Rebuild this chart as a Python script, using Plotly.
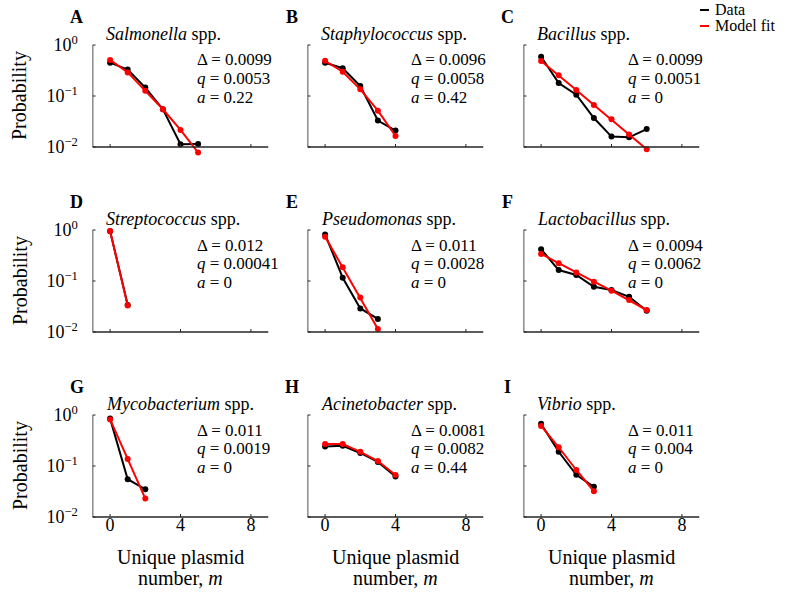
import plotly.graph_objects as go

W, H = 787, 602

species = ["Salmonella", "Staphylococcus", "Bacillus",
           "Streptococcus", "Pseudomonas", "Lactobacillus",
           "Mycobacterium", "Acinetobacter", "Vibrio"]
letters = ["A", "B", "C", "D", "E", "F", "G", "H", "I"]

# Observed probabilities (Data) per species, index = unique plasmid number m
data_obs = [
    [0.45, 0.33, 0.146, 0.055, 0.0113, 0.0114],
    [0.45, 0.35, 0.157, 0.033, 0.021],
    [0.59, 0.18, 0.106, 0.037, 0.016, 0.0155, 0.0225],
    [0.95, 0.034],
    [0.82, 0.116, 0.029, 0.018],
    [0.42, 0.164, 0.131, 0.077, 0.0667, 0.049, 0.026],
    [0.85, 0.055, 0.035],
    [0.24, 0.25, 0.18, 0.12, 0.062],
    [0.67, 0.19, 0.067, 0.039],
]
# Model fit probabilities
data_fit = [
    [0.51, 0.29, 0.127, 0.055, 0.0216, 0.0078],
    [0.49, 0.30, 0.135, 0.0515, 0.0164],
    [0.485, 0.254, 0.131, 0.0667, 0.0349, 0.0175, 0.009],
    [0.955, 0.033],
    [0.74, 0.185, 0.0475, 0.0115],
    [0.34, 0.222, 0.146, 0.097, 0.0645, 0.0425, 0.027],
    [0.82, 0.137, 0.023],
    [0.27, 0.27, 0.19, 0.125, 0.0667],
    [0.61, 0.233, 0.0835, 0.032],
]
delta_vals = ["0.0099", "0.0096", "0.0099", "0.012", "0.011", "0.0094", "0.011", "0.0081", "0.011"]
q_vals = ["0.0053", "0.0058", "0.0051", "0.00041", "0.0028", "0.0062", "0.0019", "0.0082", "0.004"]
a_vals = ["0.22", "0.42", "0", "0", "0", "0", "0", "0.44", "0"]

x_ticks = [0, 4, 8]
y_ticks = [0.01, 0.1, 1]
y_tick_text = ["10<sup>−2</sup>", "10<sup>−1</sup>", "10<sup>0</sup>"]
x_lim = [-1, 9]
y_lim = [0.01, 1]

legend_names = ["Data", "Model fit"]
legend_colors = ["black", "#ff0000"]

FONT = "Liberation Serif"
AX = "#262626"

col_left = [92.5, 307.5, 523.5]
plot_w = 176
px_per_unit = plot_w / (x_lim[1] - x_lim[0])
row_top = [45, 230, 415]      # pixel of 10^0
decade = 51.0                 # pixels per decade
pad_top, pad_bot = 0.02, 0.12  # extra decades shown so points below 10^-2 stay visible
tick_px = 3

fig = go.Figure()
layout = {}
annotations = []
shapes = []

for i in range(9):
    r, c = divmod(i, 3)
    n = "" if i == 0 else str(i + 1)
    xa, ya = "x" + n, "y" + n
    m_obs = list(range(len(data_obs[i])))
    m_fit = list(range(len(data_fit[i])))
    fig.add_trace(go.Scatter(
        x=m_obs, y=data_obs[i], mode="lines+markers",
        line=dict(color=legend_colors[0], width=2), marker=dict(size=6, color=legend_colors[0]),
        cliponaxis=False, xaxis=xa, yaxis=ya, name=legend_names[0],
        legendgroup="data", showlegend=False))
    fig.add_trace(go.Scatter(
        x=m_fit, y=data_fit[i], mode="lines+markers",
        line=dict(color=legend_colors[1], width=2), marker=dict(size=6, color=legend_colors[1]),
        cliponaxis=False, xaxis=xa, yaxis=ya, name=legend_names[1],
        legendgroup="fit", showlegend=False))

    x0 = col_left[c]
    y_top = row_top[r] - pad_top * decade
    y_bot = row_top[r] + (2 + pad_bot) * decade
    layout["xaxis" + n] = dict(
        domain=[x0 / W, (x0 + plot_w) / W], range=x_lim,
        tickvals=x_ticks, ticktext=[str(v) for v in x_ticks],
        showticklabels=(r == 2), showline=False, ticks="",
        showgrid=False, zeroline=False, anchor=ya, automargin=False,
        ticklabelstandoff=-11,
        tickfont=dict(family=FONT, size=18, color="black"))
    # outside ticks are transparent spacers that set the label gap;
    # the visible inward ticks are drawn below as shapes
    layout["yaxis" + n] = dict(
        domain=[1 - y_bot / H, 1 - y_top / H], type="log",
        range=[-2 - pad_bot, 0 + pad_top],
        tickvals=y_ticks, ticktext=y_tick_text,
        showticklabels=(c == 0), showline=False,
        ticks="outside", ticklen=10, tickcolor="rgba(0,0,0,0)", tickwidth=1,
        showgrid=False, zeroline=False, anchor=xa, automargin=False,
        tickfont=dict(family=FONT, size=18, color="black"))

    # axis lines (MATLAB style: y line spans exactly 10^-2..10^0)
    shapes.append(dict(type="line", xref=xa, yref=ya, x0=x_lim[0], x1=x_lim[1],
                       y0=y_lim[0], y1=y_lim[0], line=dict(color=AX, width=1.6), layer="above"))
    shapes.append(dict(type="line", xref=xa, yref=ya, x0=x_lim[0], x1=x_lim[0],
                       y0=y_lim[0], y1=y_lim[1], line=dict(color=AX, width=1.6), layer="above"))
    for t in x_ticks:
        shapes.append(dict(type="line", xref=xa, yref=ya, x0=t, x1=t,
                           y0=y_lim[0], y1=y_lim[0] * 10 ** (tick_px / decade),
                           line=dict(color=AX, width=1), layer="above"))
    for t in y_ticks:
        shapes.append(dict(type="line", xref=xa, yref=ya, x0=x_lim[0],
                           x1=x_lim[0] + tick_px / px_per_unit, y0=t, y1=t,
                           line=dict(color=AX, width=1), layer="above"))

    # panel letter
    annotations.append(dict(
        text="<b>%s</b>" % letters[i], x=(x0 - 16) / W, y=1 - (row_top[r] - 28) / H,
        xref="paper", yref="paper", xanchor="center", yanchor="middle",
        showarrow=False, font=dict(family=FONT, size=18, color="black")))
    # title
    annotations.append(dict(
        text="<i>%s</i> spp." % species[i], x=(x0 + 11) / W, y=1 - (row_top[r] - 11) / H,
        xref="paper", yref="paper", xanchor="left", yanchor="middle",
        showarrow=False, font=dict(family=FONT, size=18, color="black")))
    # stats
    stats = ["Δ = " + delta_vals[i], "<i>q</i> = " + q_vals[i], "<i>a</i> = " + a_vals[i]]
    for s, dy in zip(stats, [15, 33.5, 52]):
        annotations.append(dict(
            text=s, x=(x0 + 102) / W, y=1 - (row_top[r] + dy) / H,
            xref="paper", yref="paper", xanchor="left", yanchor="middle",
            showarrow=False, font=dict(family=FONT, size=17, color="black")))

    if c == 0:
        annotations.append(dict(
            text="Probability", x=20 / W, y=1 - (row_top[r] + decade) / H,
            xref="paper", yref="paper", xanchor="center", yanchor="middle",
            textangle=-90, showarrow=False,
            font=dict(family=FONT, size=20, color="black")))
    if r == 2:
        cx = (x0 + 88) / W
        annotations.append(dict(
            text="Unique plasmid", x=cx, y=1 - 557 / H,
            xref="paper", yref="paper", xanchor="center", yanchor="middle",
            showarrow=False, font=dict(family=FONT, size=20, color="black")))
        annotations.append(dict(
            text="number, <i>m</i>", x=cx, y=1 - 578 / H,
            xref="paper", yref="paper", xanchor="center", yanchor="middle",
            showarrow=False, font=dict(family=FONT, size=20, color="black")))

# legend key (compact, as in the reference)
for k, (name, col) in enumerate(zip(legend_names, legend_colors)):
    ly = 10 + 16 * k
    shapes.append(dict(type="line", xref="paper", yref="paper",
                       x0=700 / W, x1=709 / W, y0=1 - ly / H, y1=1 - ly / H,
                       line=dict(color=col, width=2)))
    annotations.append(dict(
        text=name, x=713 / W, y=1 - ly / H, xref="paper", yref="paper",
        xanchor="left", yanchor="middle", showarrow=False,
        font=dict(family=FONT, size=16, color="black")))

fig.update_layout(
    width=W, height=H, margin=dict(l=0, r=0, t=0, b=0, autoexpand=False),
    paper_bgcolor="white", plot_bgcolor="white",
    font=dict(family=FONT, size=18, color="black"),
    annotations=annotations, shapes=shapes, showlegend=False,
    **layout)

fig.write_html("out.html")
